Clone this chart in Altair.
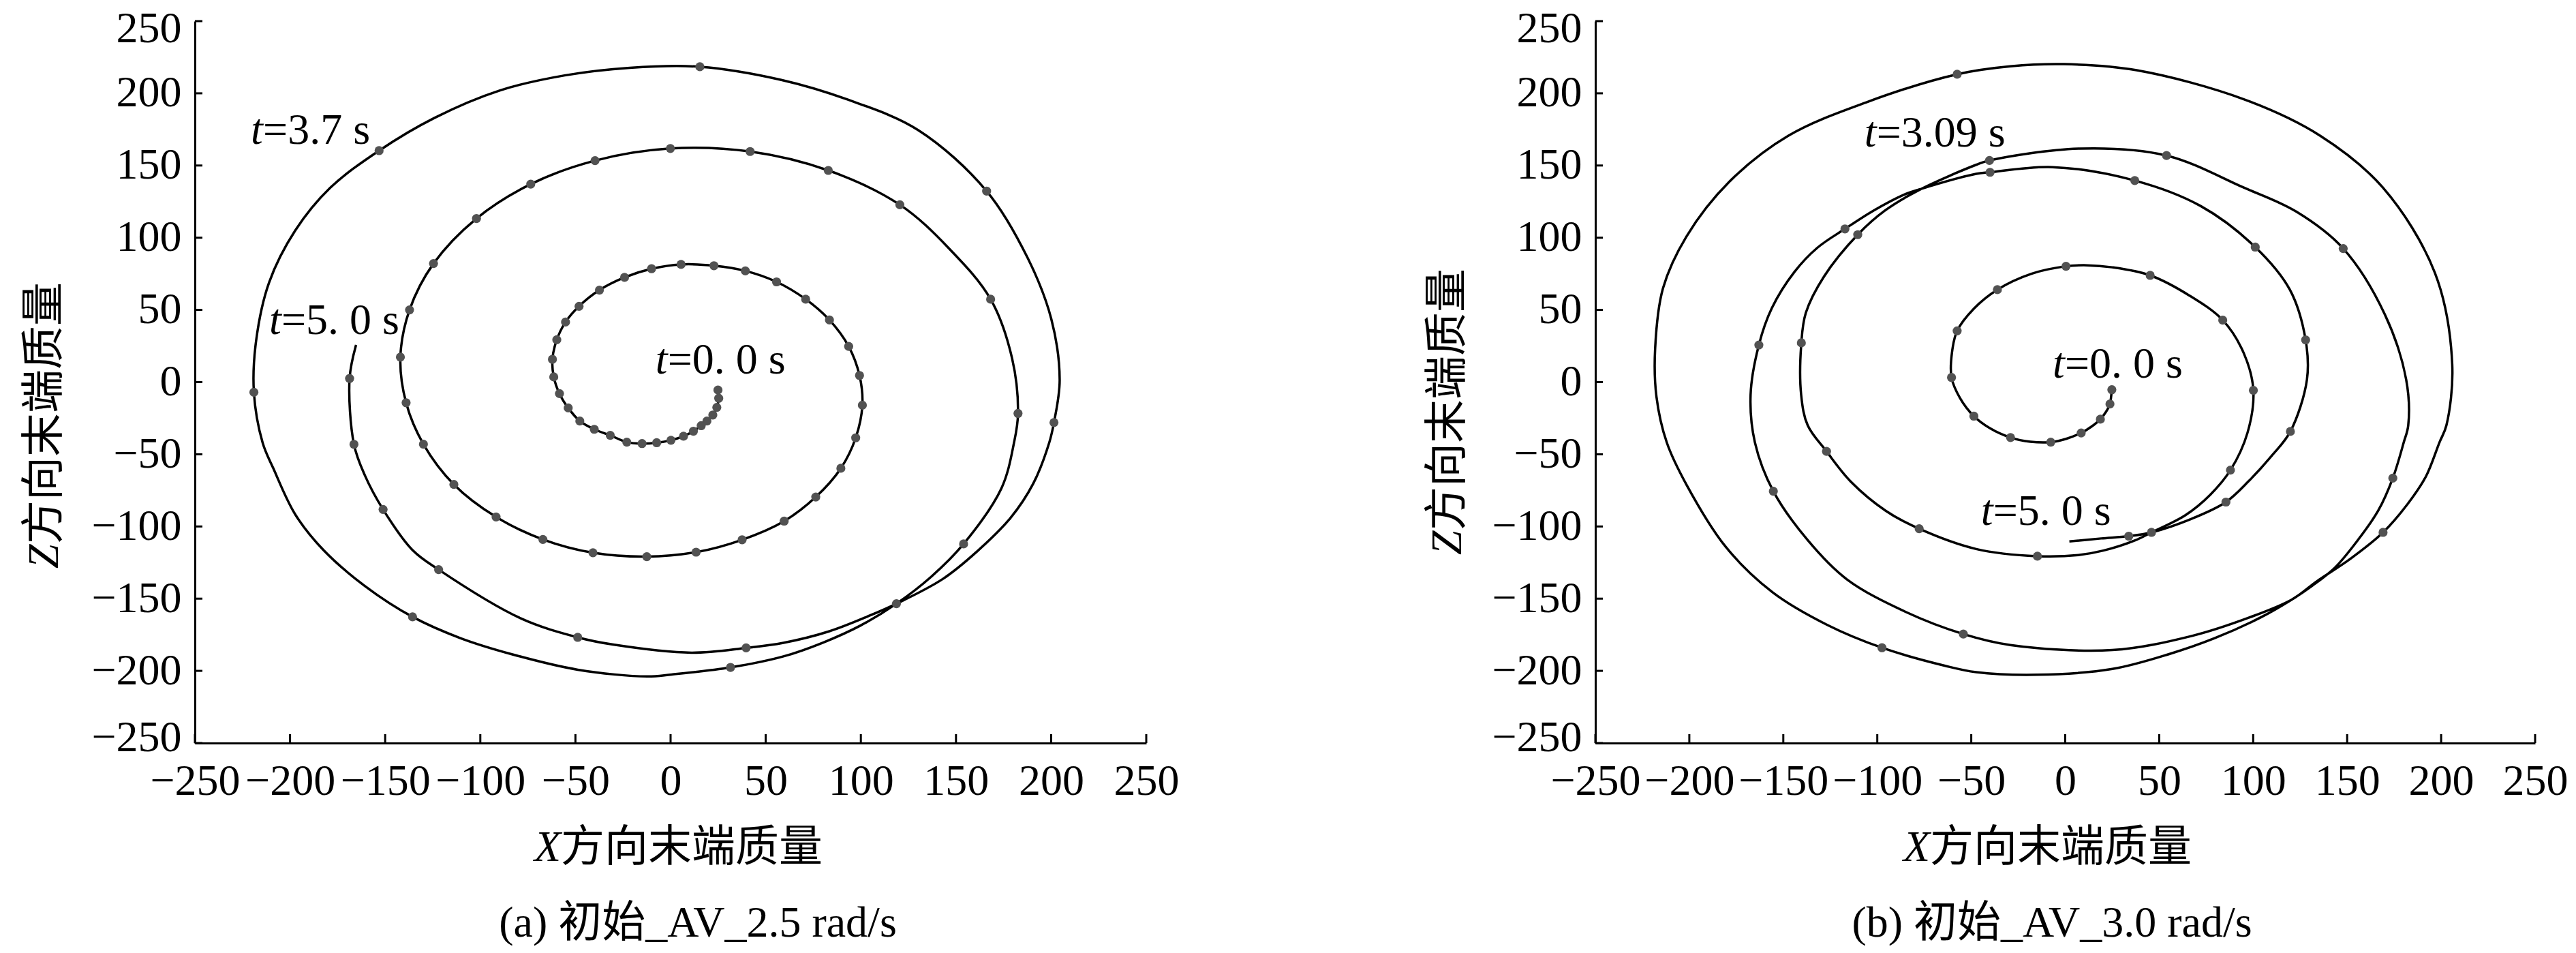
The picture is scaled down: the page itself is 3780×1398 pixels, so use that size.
import altair as alt
import pandas as pd

# ---------------- data ----------------
# (a) initial AV 2.5 rad/s : trajectory of the end mass, in time order
left_curve_x = [24.9, 25.3, 24.3, 22.2, 19.1, 16.1, 12.0, 6.8, 0.2, -7.3, -15.0, -23.0, -31.7, -40.1, -47.7,
                -53.8, -58.4, -61.4, -62.1, -59.8, -55.2, -48.1, -37.4, -24.2, -10.0, 5.5, 22.8, 39.3, 55.7,
                71.0, 83.5, 93.6, 99.3, 100.8, 97.3, 89.5, 76.3, 59.7, 37.6, 13.4, -12.5, -40.8, -67.1, -91.7,
                -113.9, -129.9, -139.0, -142.0, -137.2, -124.6, -102.0, -73.5, -39.7, -0.1, 41.8, 82.9, 120.5,
                146.6, 168.2, 179.5, 182.6, 180.5, 173.9, 154.0, 136.9, 118.7, 100.0, 80.0, 59.3, 31.5, 0.6,
                -12.3, -48.8, -83.1, -110.5, -135.6, -160.7, -182.4, -197.3, -208.7, -214.4, -219.0, -217.8,
                -211.0, -197.3, -179.0, -153.2, -124.2, -89.9, -55.7, -21.4, 15.4, 58.2, 93.2, 130.2, 166.1,
                187.7, 200.1, 204.5, 201.5, 199.0, 190.6, 178.7, 160.8, 142.9, 118.7, 104.7, 83.2, 59.3, 39.7,
                10.9, -30.2, -48.8, -78.5, -121.9, -135.6, -151.1, -160.7, -166.4, -168.7, -165.3]
left_curve_z = [-5.5, -11.2, -17.5, -22.8, -27.0, -30.2, -34.0, -37.5, -40.3, -42.0, -42.6, -41.6, -36.9, -32.7,
                -27.0, -17.9, -8.0, 3.6, 15.8, 29.3, 41.6, 52.5, 63.7, 72.5, 78.5, 81.5, 80.6, 77.0, 69.4,
                57.4, 43.0, 24.7, 4.6, -16.0, -38.6, -59.7, -79.6, -96.3, -109.2, -117.8, -120.9, -118.2,
                -109.0, -93.4, -70.9, -43.0, -14.3, 17.3, 50.0, 82.1, 113.3, 137.1, 153.4, 161.8, 159.7,
                146.6, 122.8, 92.2, 57.4, 16.3, -21.7, -42.0, -73.5, -112.1, -134.9, -153.5, -168.5, -180.5,
                -190.0, -197.6, -202.5, -203.9, -199.2, -188.6, -177.3, -162.6, -141.2, -116.4, -91.6, -60.0,
                -42.0, -7.0, 28.9, 69.0, 104.9, 134.4, 160.3, 182.9, 201.9, 212.4, 217.7, 218.4, 209.3, 195.6,
                174.5, 132.3, 85.9, 43.7, 1.5, -28.0, -42.0, -70.3, -94.0, -117.6, -136.5, -153.5, -161.7,
                -172.7, -180.6, -184.1, -187.4, -181.8, -176.8, -163.8, -129.9, -116.4, -88.2, -64.5, -43.1,
                2.5, 25.7]
left_dot_x = [24.9, 25.3, 24.3, 22.2, 19.1, 16.1, 12.0, 6.8, 0.2, -7.3, -15.0, -23.0, -31.7, -40.1, -47.7,
              -53.8, -58.4, -61.4, -62.1, -59.8, -55.2, -48.1, -37.4, -24.2, -10.0, 5.5, 22.8, 39.3, 55.7,
              71.0, 83.5, 93.6, 99.3, 100.8, 97.3, 89.5, 76.3, 59.7, 37.6, 13.4, -12.5, -40.8, -67.1, -91.7,
              -113.9, -129.9, -139.0, -142.0, -137.2, -124.6, -102.0, -73.5, -39.7, -0.1, 41.8, 82.9, 120.5,
              168.2, 182.6, 154.0, 118.7, 31.5, -135.6, -219.0, -153.2, 15.4, 166.1, 201.5, 39.7, -48.8,
              -121.9, -151.1, -166.4, -168.7]
left_dot_z = [-5.5, -11.2, -17.5, -22.8, -27.0, -30.2, -34.0, -37.5, -40.3, -42.0, -42.6, -41.6, -36.9, -32.7,
              -27.0, -17.9, -8.0, 3.6, 15.8, 29.3, 41.6, 52.5, 63.7, 72.5, 78.5, 81.5, 80.6, 77.0, 69.4,
              57.4, 43.0, 24.7, 4.6, -16.0, -38.6, -59.7, -79.6, -96.3, -109.2, -117.8, -120.9, -118.2,
              -109.0, -93.4, -70.9, -43.0, -14.3, 17.3, 50.0, 82.1, 113.3, 137.1, 153.4, 161.8, 159.7,
              146.6, 122.8, 57.4, -21.7, -112.1, -153.5, -197.6, -162.6, -7.0, 160.3, 218.4, 132.3, -28.0,
              -184.1, -176.8, -129.9, -88.2, -43.1, 2.5]

# (b) initial AV 3.0 rad/s
right_curve_x = [24.8, 24.4, 23.8, 21.6, 18.7, 14.0, 8.5, 0.5, -7.7, -18.5, -29.1, -40.0, -48.6, -56.0, -60.5,
                 -60.3, -57.5, -48.5, -36.1, -18.0, 0.4, 11.6, 25.0, 45.2, 66.0, 83.8, 95.0, 100.1, 97.0, 87.9,
                 77.1, 63.8, 45.9, 37.2, 20.3, 7.0, -14.8, -47.4, -77.7, -95.4, -114.1, -127.0, -137.0, -140.5,
                 -140.4, -138.0, -128.3, -110.4, -95.7, -77.5, -47.4, -40.3, 7.5, 53.9, 95.0, 123.0, 147.9,
                 170.0, 181.4, 182.5, 180.1, 174.3, 166.5, 155.6, 143.5, 131.4, 120.6, 103.7, 79.5, 55.3, 25.1,
                 -14.9, -47.4, -64.2, -97.5, -126.6, -155.7, -180.7, -201.5, -212.0, -217.5, -218.2, -214.0,
                 -201.5, -178.6, -147.4, -105.8, -57.5, -29.2, -0.6, 38.0, 95.0, 135.7, 169.0, 196.7, 205.9,
                 202.8, 199.1, 191.9, 182.2, 169.1, 151.9, 133.9, 120.6, 97.6, 67.4, 25.1, -29.2, -54.2, -85.0,
                 -116.2, -137.0, -155.3, -165.1, -167.4, -163.0, -156.1, -144.0, -131.9, -117.2, -101.7, -86.0,
                 -77.5, -47.4, -40.0, -6.7, 37.0, 72.0, 101.1, 119.5, 127.9, 128.6, 119.8, 109.7, 97.6, 85.5,
                 67.4, 45.9, 33.8, 19.1, 2.2]
right_curve_z = [-5.3, -10.2, -15.2, -20.8, -25.7, -30.8, -35.2, -39.3, -41.6, -41.3, -38.4, -32.0, -23.6, -11.0,
                 3.2, 20.0, 35.5, 51.0, 64.0, 75.0, 80.2, 80.9, 79.5, 73.9, 60.0, 42.9, 20.0, -5.7, -35.0, -61.0,
                 -78.1, -92.3, -104.1, -109.6, -116.7, -119.8, -120.6, -115.6, -101.6, -89.2, -68.9, -48.0,
                 -30.0, -8.8, 27.2, 48.0, 73.2, 102.1, 119.0, 133.2, 150.5, 153.5, 161.7, 156.9, 134.7, 118.0,
                 92.5, 47.0, 1.7, -30.0, -41.8, -66.5, -89.1, -109.6, -128.5, -141.1, -150.6, -163.2, -177.4,
                 -188.4, -198.7, -202.7, -200.9, -196.4, -184.0, -168.2, -145.6, -114.0, -71.1, -41.8, -10.0,
                 22.8, 65.0, 100.9, 138.9, 170.6, 193.8, 213.2, 218.7, 220.2, 216.0, 195.9, 170.6, 134.7, 75.6,
                 12.3, -30.0, -41.8, -65.4, -84.4, -104.1, -122.2, -137.9, -150.6, -163.2, -175.8, -185.6,
                 -182.1, -174.5, -159.1, -136.6, -109.5, -75.6, -41.8, -8.8, 25.7, 51.2, 76.4, 93.0, 106.1,
                 119.0, 129.7, 133.5, 144.2, 145.3, 148.9, 139.6, 122.0, 93.5, 64.0, 29.2, 1.7, -34.2, -51.3,
                 -68.6, -83.1, -94.6, -104.1, -106.7, -108.3, -110.4]
right_dot_x = [24.8, 23.8, 18.7, 8.5, -7.7, -29.1, -48.6, -60.5, -57.5, -36.1, 0.4, 45.2, 83.8, 100.1, 87.9,
               45.9, -14.8, -77.7, -127.0, -140.4, -110.4, -40.3, 53.9, 147.9, 174.3, -97.5, -57.5, 169.1,
               -54.2, -155.3, -163.0, -117.2, -40.0, 37.0, 101.1, 127.9, 119.8, 85.5, 33.8]
right_dot_z = [-5.3, -15.2, -25.7, -35.2, -41.6, -38.4, -23.6, 3.2, 35.5, 64.0, 80.2, 73.9, 42.9, -5.7, -61.0,
               -104.1, -120.6, -101.6, -48.0, 27.2, 102.1, 153.5, 156.9, 92.5, -66.5, -184.0, 213.2, -104.1,
               -174.5, -75.6, 25.7, 106.1, 145.3, 139.6, 93.5, 29.2, -34.2, -83.1, -106.7]

# time annotations: "t" + rest, anchored at (x, z) in data units
left_ann_x = [-220.6, -211.0, -8.0]
left_ann_z = [165.0, 33.1, 5.7]
left_ann_text = ["=3.7 s", "=5. 0 s", "=0. 0 s"]
right_ann_x = [-106.9, -6.7, -44.9]
right_ann_z = [163.2, 3.2, -98.9]
right_ann_text = ["=3.09 s", "=0. 0 s", "=5. 0 s"]

tick_values = [-250, -200, -150, -100, -50, 0, 50, 100, 150, 200, 250]
x_title_italic = "X"
y_title_italic = "Z"
title_rest = "方向末端质量"
captions = ["(a) 初始_AV_2.5 rad/s", "(b) 初始_AV_3.0 rad/s"]

# ---------------- chart ----------------
SERIF = "Liberation Serif"
CJK = "Noto Sans CJK SC"
FS = 64
H = 1059
FRAME_TOP = 60
LW = 3.5


def panel(cx, cz, dx_, dz_, ax, az, atext, width, caption, xt_left, yt_x, yt_bottom, cap_x, frame):
    sc = alt.Scale(domain=[-250, 250], nice=False, zero=False)
    axis_x = alt.Axis(values=tick_values, title=None, labelOverlap=False, labelFlush=False, labelBound=False)
    axis_y = alt.Axis(values=tick_values, title=None, labelOverlap=False, labelFlush=False, labelBound=False,
                      labelOffset={"condition": [{"test": "datum.value === 250", "value": 11},
                                                 {"test": "datum.value === -250", "value": -8}],
                                   "value": 0})

    def X(f):
        return alt.X(f"{f}:Q", scale=sc, axis=axis_x)

    def Y(f):
        return alt.Y(f"{f}:Q", scale=sc, axis=axis_y)

    curve = pd.DataFrame({"x": cx, "z": cz, "i": list(range(len(cx)))})
    dots = pd.DataFrame({"x": dx_, "z": dz_})
    ann = pd.DataFrame({"x": ax, "z": az, "t": atext})
    ticks = pd.DataFrame({"v": tick_values})
    one = pd.DataFrame({"a": [0]})

    line = alt.Chart(curve).mark_line(color="black", strokeWidth=LW, interpolate="catmull-rom").encode(
        x=X("x"), y=Y("z"), order="i:Q")
    pts = alt.Chart(dots).mark_circle(size=175, color="#525252", opacity=1).encode(x=X("x"), y=Y("z"))
    t_it = alt.Chart(ann).mark_text(text="t", font=SERIF, fontStyle="italic", fontSize=FS, align="left",
                                    baseline="alphabetic", color="black").encode(x=X("x"), y=Y("z"))
    t_rest = alt.Chart(ann).mark_text(font=SERIF, fontSize=FS, align="left", baseline="alphabetic", dx=18,
                                      color="black").encode(x=X("x"), y=Y("z"), text="t:N")
    xt = alt.Chart(ticks).mark_rule(color="black", strokeWidth=3).encode(
        x=X("v"), y=alt.value(H), y2=alt.value(H - 13))
    yt = alt.Chart(ticks).mark_rule(color="black", strokeWidth=3).encode(
        y=Y("v"), x=alt.value(0), x2=alt.value(11))
    xtitle_a = alt.Chart(one).mark_text(text=x_title_italic, font=SERIF, fontStyle="italic", fontSize=FS,
                                        align="left", baseline="alphabetic", color="black").encode(
        x=alt.value(xt_left), y=alt.value(1232))
    xtitle_b = alt.Chart(one).mark_text(text=title_rest, font=CJK, fontSize=FS, align="left",
                                        baseline="alphabetic", color="black").encode(
        x=alt.value(xt_left + 39), y=alt.value(1232))
    ytitle_a = alt.Chart(one).mark_text(text=y_title_italic, font=SERIF, fontStyle="italic", fontSize=FS,
                                        align="left", baseline="middle", angle=270, color="black").encode(
        x=alt.value(yt_x), y=alt.value(yt_bottom))
    ytitle_b = alt.Chart(one).mark_text(text=title_rest, font=CJK, fontSize=FS, align="left",
                                        baseline="middle", angle=270, color="black").encode(
        x=alt.value(yt_x), y=alt.value(yt_bottom - 36))
    cap = alt.Chart(one).mark_text(text=caption, font=f"{SERIF}, {CJK}", fontSize=FS, align="center",
                                   baseline="alphabetic", color="black").encode(
        x=alt.value(cap_x), y=alt.value(1343))
    # invisible frame that fixes the page extent of the panel (layout only, no data)
    fr = alt.Chart(one).mark_rule(color="white", strokeOpacity=0, strokeWidth=1).encode(
        x=alt.value(frame[0]), x2=alt.value(frame[0] + 1), y=alt.value(frame[1]), y2=alt.value(frame[1] + 1))
    return alt.layer(fr, line, pts, t_it, t_rest, xt, yt, xtitle_a, xtitle_b, ytitle_a, ytitle_b, cap).properties(
        width=width, height=H)


left = panel(left_curve_x, left_curve_z, left_dot_x, left_dot_z, left_ann_x, left_ann_z, left_ann_text,
             1396, captions[0], 498, -220, 803, 738, (-278, -FRAME_TOP))
right = panel(right_curve_x, right_curve_z, right_dot_x, right_dot_z, right_ann_x, right_ann_z, right_ann_text,
              1379, captions[1], 452, -216, 783, 670, (1379 + 51, H + 299))

chart = alt.hconcat(left, right, spacing=659, bounds="flush").properties(
    padding={"left": 0, "top": 31 - 8 - FRAME_TOP, "right": 0, "bottom": 0},
).configure_view(stroke=None).configure_axis(
    grid=False, domainColor="black", domainWidth=3, ticks=False,
    labelFont=SERIF, labelFontSize=FS, labelColor="black",
).configure_axisX(labelPadding=24).configure_axisY(labelPadding=20)

chart.save("out.html", embed_options={"renderer": "svg", "actions": False})
